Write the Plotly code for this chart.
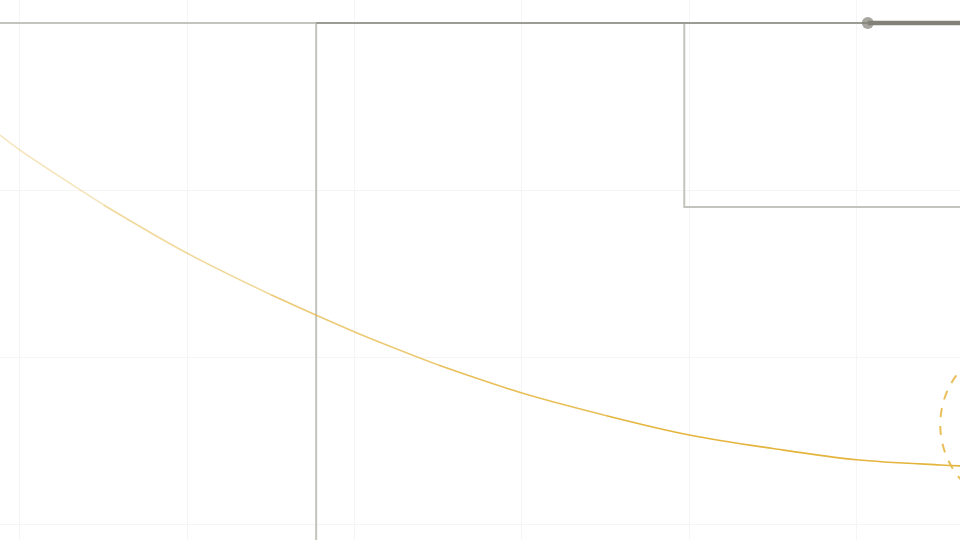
import plotly.graph_objects as go

# ---- data ----
curve_x = [-0.12, 0.0, 0.5, 1.0, 1.5, 2.0, 2.5, 3.0, 3.5, 4.0, 4.5, 5.0, 5.5, 5.62]
curve_y = [2.331, 2.241, 1.913, 1.624, 1.376, 1.154, 0.956, 0.789, 0.655, 0.538, 0.457, 0.39, 0.359, 0.353]

step_a_x = [-0.5, 1.77]
step_a_y = [3.0, -0.5]

step_b_x = [1.77, 3.97, 6.5]
step_b_y = [3.0, 1.9, 1.9]

route_thin_x = [1.77, 5.067]
route_thin_y = [3.0, 3.0]

route_thick_x = [5.067, 6.5]
route_thick_y = [3.0, 3.0]

circle_center = (6.0, 0.6)
circle_radius = 0.5

x_range = [-0.1195, 5.618]
y_range = [-0.0897, 3.138]

YELLOW = "rgb(228,180,60)"
LIGHT_GRAY = "rgb(196,196,190)"
DARK_GRAY = "rgb(156,156,148)"
THICK_GRAY = "rgb(130,130,120)"

fig = go.Figure()

# light step lines
fig.add_trace(go.Scatter(x=step_a_x, y=step_a_y, mode="lines",
                         line=dict(color=LIGHT_GRAY, width=2, shape="hv"),
                         hoverinfo="skip", showlegend=False))
fig.add_trace(go.Scatter(x=step_b_x, y=step_b_y, mode="lines",
                         line=dict(color=LIGHT_GRAY, width=2, shape="hv"),
                         hoverinfo="skip", showlegend=False))
# darker route
fig.add_trace(go.Scatter(x=route_thin_x, y=route_thin_y, mode="lines",
                         line=dict(color=DARK_GRAY, width=2),
                         hoverinfo="skip", showlegend=False))
fig.add_trace(go.Scatter(x=route_thick_x, y=route_thick_y, mode="lines+markers",
                         line=dict(color=THICK_GRAY, width=4.5),
                         marker=dict(size=[12, 0], color=THICK_GRAY, line=dict(width=0)),
                         hoverinfo="skip", showlegend=False))

# yellow curve, fading in from left to right
bounds = [(0, 3, 0.35), (2, 5, 0.5), (4, 7, 0.7), (6, 9, 0.85), (8, 14, 1.0)]
for i0, i1, op in bounds:
    fig.add_trace(go.Scatter(x=curve_x[i0:i1], y=curve_y[i0:i1], mode="lines",
                             line=dict(color=YELLOW, width=1.6, shape="spline"),
                             opacity=op, hoverinfo="skip", showlegend=False))

# dashed circle
cx, cy = circle_center
fig.add_shape(type="circle", xref="x", yref="y",
              x0=cx - circle_radius, x1=cx + circle_radius,
              y0=cy - circle_radius, y1=cy + circle_radius,
              line=dict(color=YELLOW, width=2, dash="dash"), opacity=0.85)

fig.update_xaxes(range=x_range, showticklabels=False, zeroline=False, showline=False,
                 tick0=0, dtick=1, showgrid=True, gridcolor="rgb(245,245,245)", gridwidth=1)
fig.update_yaxes(range=y_range, showticklabels=False, zeroline=False, showline=False,
                 tick0=0, dtick=1, showgrid=True, gridcolor="rgb(245,245,245)", gridwidth=1)

fig.update_layout(width=960, height=540, margin=dict(l=0, r=0, t=0, b=0),
                  paper_bgcolor="white", plot_bgcolor="white", showlegend=False)

fig.write_html("out.html", config={"displayModeBar": False},
               post_script="document.body.style.margin='0';document.body.style.overflow='hidden';")
